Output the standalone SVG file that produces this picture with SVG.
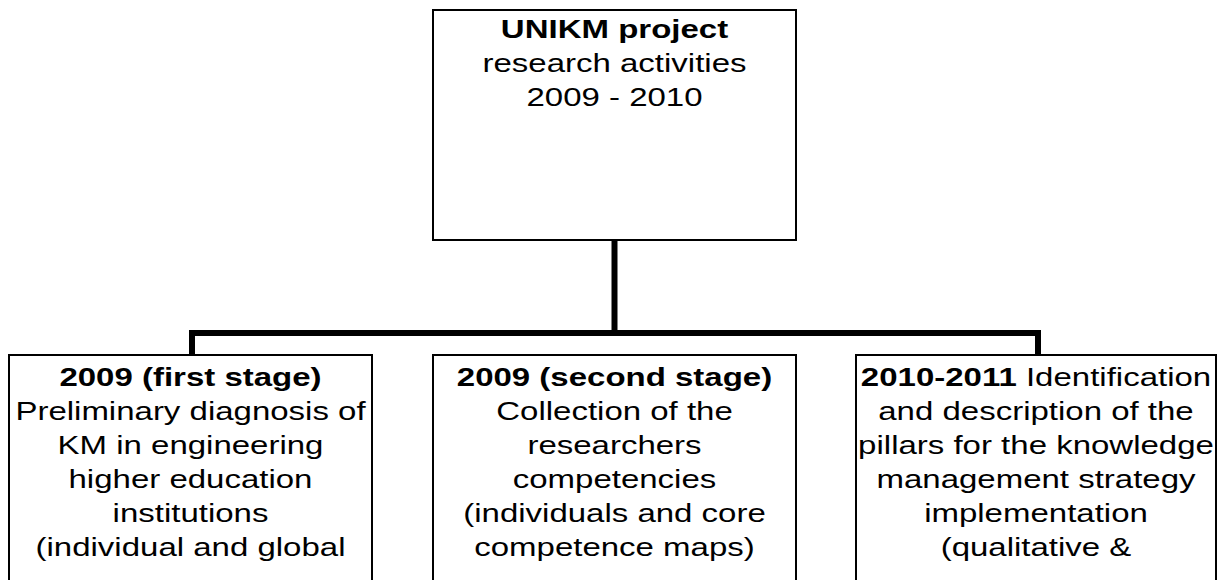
<svg xmlns="http://www.w3.org/2000/svg" width="1223" height="580" viewBox="0 0 1223 580">
<style>
.box{fill:#fff;stroke:#000;stroke-width:2}
.conn{fill:none;stroke:#000;stroke-width:6;stroke-linejoin:miter;stroke-linecap:butt}
text{font-family:"Liberation Sans",Arial,sans-serif;font-size:25px;fill:#000;text-anchor:middle}
.b{font-weight:bold}
</style>
<rect x="0" y="0" width="1223" height="580" fill="#fff"/>
<g id="connectors">
<path class="conn" d="M614.5 240 V333"/>
<path class="conn" d="M192 355 V333 H1038 V355"/>
</g>
<g id="top">
<rect class="box" x="433" y="10" width="363" height="230"/>
<g transform="translate(614.5,0) scale(1.32,1)">
<text class="b" x="0" y="38">UNIKM project</text>
<text x="0" y="72">research activities</text>
<text x="0" y="106">2009 - 2010</text>
</g>
</g>
<g id="stage1">
<rect class="box" x="9" y="355" width="363" height="240"/>
<g transform="translate(190.5,0) scale(1.32,1)">
<text class="b" x="0" y="386">2009 (first stage)</text>
<text x="0" y="420">Preliminary diagnosis of</text>
<text x="0" y="454">KM in engineering</text>
<text x="0" y="488">higher education</text>
<text x="0" y="522">institutions</text>
<text x="0" y="556">(individual and global</text>
</g>
</g>
<g id="stage2">
<rect class="box" x="433" y="355" width="363" height="240"/>
<g transform="translate(614.5,0) scale(1.32,1)">
<text class="b" x="0" y="386">2009 (second stage)</text>
<text x="0" y="420">Collection of the</text>
<text x="0" y="454">researchers</text>
<text x="0" y="488">competencies</text>
<text x="0" y="522">(individuals and core</text>
<text x="0" y="556">competence maps)</text>
</g>
</g>
<g id="stage3">
<rect class="box" x="856" y="355" width="360" height="240"/>
<g transform="translate(1036,0) scale(1.32,1)">
<text x="0" y="386"><tspan class="b">2010-2011</tspan> Identification</text>
<text x="0" y="420">and description of the</text>
<text x="0" y="454">pillars for the knowledge</text>
<text x="0" y="488">management strategy</text>
<text x="0" y="522">implementation</text>
<text x="0" y="556">(qualitative &amp;</text>
</g>
</g>
</svg>
